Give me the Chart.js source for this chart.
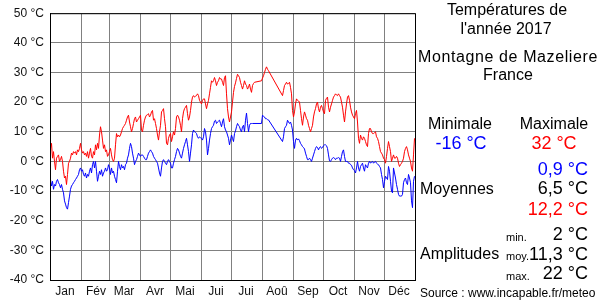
<!DOCTYPE html>
<html lang="fr">
<head>
<meta charset="utf-8">
<title>Températures de l'année 2017 - Montagne de Mazeliere</title>
<script src="https://cdn.jsdelivr.net/npm/chart.js@4.4.1/dist/chart.umd.min.js"></script>
<style>
  html, body { margin: 0; padding: 0; background: #fff; }
  #wrap { position: relative; width: 600px; height: 300px; overflow: hidden;
          font-family: 'Liberation Sans', Arial, sans-serif; color: #000; }
  #chart { position: absolute; left: 0; top: 0; }
  .t { position: absolute; white-space: nowrap; height: 20px; line-height: 20px; font-size: 16px; }
  .c { width: 200px; text-align: center; }
  .r { right: 12px; text-align: right; }
  .v { font-size: 18px; }
  .s { font-size: 11px; }
  .blue { color: #0000ff; }
  .red { color: #ff0000; }
</style>
</head>
<body>
<div id="wrap">
  <canvas id="chart" width="600" height="300"></canvas>

  <div class="t c" style="left:407px; top:0px;">Températures de</div>
  <div class="t c" style="left:406px; top:19px;">l'année 2017</div>
  <div class="t c" style="left:408px; top:47px; letter-spacing:0.6px;">Montagne de Mazeliere</div>
  <div class="t c" style="left:408px; top:65px;">France</div>

  <div class="t c" style="left:360px; top:114px;">Minimale</div>
  <div class="t c" style="left:454px; top:114px;">Maximale</div>
  <div class="t c v blue" style="left:361px; top:133px;">-16 °C</div>
  <div class="t c v red" style="left:454px; top:133px;">32 °C</div>

  <div class="t r v blue" style="top:159px;">0,9 °C</div>
  <div class="t" style="left:420px; top:179px;">Moyennes</div>
  <div class="t r v" style="top:178px;">6,5 °C</div>
  <div class="t r v red" style="top:199px;">12,2 °C</div>

  <div class="t s" style="left:506px; top:227px;">min.</div>
  <div class="t r v" style="top:224px;">2 °C</div>
  <div class="t" style="left:420px; top:244px;">Amplitudes</div>
  <div class="t s" style="left:506px; top:246px;">moy.</div>
  <div class="t r v" style="top:244px;">11,3 °C</div>
  <div class="t s" style="left:506px; top:266px;">max.</div>
  <div class="t r v" style="top:263px;">22 °C</div>

  <div class="t" style="left:420px; top:283px; font-size:12px;">Source : www.incapable.fr/meteo</div>
</div>

<script>
// month axis
const monthLabels = ['Jan', 'Fév', 'Mar', 'Avr', 'Mai', 'Jui', 'Jui', 'Aoû', 'Sep', 'Oct', 'Nov', 'Déc'];
const monthStarts = [0, 31, 59, 90, 120, 151, 181, 212, 243, 273, 304, 334];
const daysInYear = 365;

// y axis
const tempMin = -40;
const tempMax = 50;
const tempStep = 10;

// daily maximum temperatures (°C), null = missing day
const tmax = [
  // Jan
  4.4, 6.1, 1.1, 3.3, 0, -2.8, 1.1, 1.7, 2.2, 0, 0.6, 1.7, 0, -3.3, -5.6, -5, -7.8, -4.4, -0.6, 0,
  1.1, 2.8, 2.2, 3.3, 2.8, 3.3, 2.2, 3.9, 3.3, 4.4, 6.1,
  // Feb
  3.9, 2.8, 3.3, 2.2, 2.8, 1.7, 3.3, 1.1, 2.8, 4.4, 1.7, 1.1, 3.3, 2.2, 5.6, 3.9, 6.1, 4.4, 8.9, 11.7,
  10, 7.2, 4.4, 5.6, 3.3, 3.9, 1.7, 2.2,
  // Mar
  3.3, 4.4, 2.2, 0.6, 0, 1.1, 5.6, 9.4, 8.3, 8.9, 8.3, 8.9, 10, 11.1, 11.7, 12.2, 12.8, 13.9, 15, 15.6,
  13.3, 11.7, 10, 11.1, 12.8, 14.4, 15, 13.3, 13.9, 14.4, 15,
  // Apr
  15.6, 10.6, 10, 12.2, 13.9, 15, 15.6, 15.8, 16.1, 15, 15.6, 16.7, 17.2, 13.9, 14.4, 12.8, 11.1, 8.9, 7.2, 10,
  12.2, 16.7, 17.2, 17.8, 14.4, 11.7, 6.1, 5.6, 7.8, 8.9,
  // May
  9.4, 6.7, 8.3, 10, 8.9, 11.1, 15, 15.6, 15, 13.9, 12.2, 10, 14.4, 16.7, 17.8, 18.3, 18.9, 16.1, 13.9, 15,
  17.2, 20, 21.7, 22.2, 21.7, 22, 22.2, 22.8, 22.2, 20.6, 20,
  // Jun
  19.4, 20.6, 21.1, 21.1, 19.4, 17.8, 19.4, 20.6, 22.8, 25, 27.2, 26.7, 27.2, 28.3, 27.2, 25.6, 26.7, 27.2, 28.3, 27.8,
  27.8, 26.7, 25.6, 28.3, 28.9, 22.8, 17.8, 15, 13.3, 15,
  // Jul
  16.7, 20, 23.3, 25.3, 26.5, 28, 29.4, 28.9, 28.3, 26.7, 25.6, 24.4, 25.6, 27.2, 26.1, 25.6, 24.4, 25, 26.1, 24.4,
  23.3, 25.6, 26.3, 26.7, null, null, null, null, null, null, 27.2,
  // Aug
  28.1, 28.9, 30, 31.1, 31.9, 31.1, 30.6, null, null, null, null, null, null, null, null, null, null, null, null, null,
  22.2, 23.9, 25.6, 26.1, 26.7, 26.1, 26.3, 26.7, 25, 22.8, 17.2,
  // Sep
  15, 16.7, 19.4, 21.1, 20.6, 20.4, 20, 17.2, 14.4, 12.2, 15, 16.7, 15.6, 14.4, 13.9, 12.2, 11.1, 10, 11.1, 12.2,
  15, 16.7, 17.8, 19.4, 20, 17.8, 16.7, 18.3, 18.9, 17.8,
  // Oct
  16.7, 16.1, 20.6, 21.3, 21.7, 18.3, 16.7, 18.3, 19.4, 20.6, 21.7, 22.2, 22.8, 22.4, 22.2, 22.8, 22.2, 21.7, 20, 18.3,
  15.6, 13.3, 16.7, 19.4, 21.7, 22.2, 20.6, 18.3, 16.7, 15.6, 15,
  // Nov
  14.4, 16.1, 17.2, 13.3, 7.8, 6.1, 8.9, 7.8, 7.2, 8.3, 7.8, 6.7, 5.6, 5, 9.4, 11.1, 11.1, 10, 9.4, 9.4,
  9.7, 10, 8.3, 7.8, 6.7, 5, 3.3, 2.8, 2.2, 1.1,
  // Dec
  0.6, -0.6, 1.7, 4.4, 6.7, 5, 3.3, 0, 1.1, 2.2, 1.1, 1.1, 1.7, 1.1, -0.6, -1.7, -1.1, -0.6, 0, 1.1,
  3.3, 4.4, 5, 3.9, 2.2, 1.1, 0, -2.2, -3.3, 2.2, 7.8
];

// daily minimum temperatures (°C), null = missing day
const tmin = [
  // Jan
  -6.1, -8.3, -6.7, -9.4, -7.8, -8.3, -6.7, -6.1, -7.2, -7.8, -8.9, -7.8, -9.4, -10.6, -13.3, -14.4, -15.6, -16.1, -13.9, -11.7,
  -9.4, -8.3, -7.8, -7.2, -6.7, -6.1, -5.6, -5, -4.4, -2.8, -2.2,
  // Feb
  -3.3, -2.8, -4.4, -5, -3.9, -5.6, -4.4, -5, -3.3, -2.2, -3.9, -1.1, 0, -2.2, 0, -3.3, -6.7, -5, -3.3, -4.4,
  -2.8, -5, -3.9, -3.3, -2.2, -3.3, -2.8, -1.1,
  // Mar
  -2.2, -4.4, -2.2, -3.9, -3.3, -5, -6.1, -7.2, -3.3, 0, -1.7, -2.8, -1.1, -2.2, -1.7, -2.8, -1.1, -0.6, 1.1, 2.2,
  4.4, 6.1, 5, 2.8, 1.1, -1.1, 0, 0.6, 1.7, 2.8, 2.2,
  // Apr
  1.7, 2.2, 2.2, 1.7, 1.1, 0.6, 0.6, 1.7, 2.8, 3.3, 3.9, 3.3, 2.8, 1.7, 1.1, 0.6, 0, -0.6, -2.2, -3.9,
  -5, -2.2, 0, 0.6, 0, -0.6, -1.1, 0, 0.6, 0,
  // May
  -0.6, -2.2, -2.2, -0.6, 0.6, 1.7, 3.3, 4.4, 3.9, 2.8, 1.7, 1.1, 2.8, 4.4, 5.6, 6.7, 7.8, 5.6, 3.3, 0,
  2.8, 5.6, 9.4, 10.6, 10, 9.8, 9.4, 8.3, 7.8, 8.3, 8,
  // Jun
  7.8, 7.2, 8.3, 11.1, 10, 7.2, 2.2, 4.4, 7.2, 9.4, 11.1, 11.7, 12.2, 13.6, 13.9, 12.8, 13.3, 13.6, 13.9, 12.8,
  11.7, 13.3, 14.4, 11.7, 10.6, 10, 8.9, 7.8, 5.6, 7.2,
  // Jul
  8.9, 7.8, 6.7, 9.4, 10.3, 11.7, 12.8, 12.2, 11.7, 10.6, 10, 11.7, 12.2, 10, 13.9, 16.3, 12.8, 10, 12.2, 12.8,
  12.8, 12.8, null, null, null, null, null, null, null, null, 12.8,
  // Aug
  15.6, 15.2, 15, 14.4, 14.4, 14.1, 14, null, null, null, null, null, null, null, null, null, null, null, null, null,
  6.7, 8.3, 11.1, 11.7, 12.2, 13.9, 13.3, 12.8, 13.3, 12.2, 10.6,
  // Sep
  6.7, 4.4, 7.2, 7.8, 7.2, 7.6, 7, 6.1, 5.6, 5, 4.7, 4.2, 2.8, 1.7, 0.6, 0.6, 1.1, 0.6, 0, 1.1,
  2.2, 3.3, 4.4, 5, 4.7, 3.9, 4.7, 5, 4.4, 4.7,
  // Oct
  5.3, 5.6, 5.6, 5.3, 4.4, 2.2, 0.2, 0, 0.6, 1.1, 1.3, 1.1, 0.6, 1.1, 1.1, 1.3, 1.1, 0, 1.7, 3.3,
  3.9, 1.7, 0, 0, 0, -0.6, -0.6, -1.1, -1.3, -2.2, -2.8,
  // Nov
  -3.1, -3.9, -2.2, 0, -2.2, -3.3, -1.7, -1.1, -0.6, -2.2, -3.3, -1.1, -1.7, -2.2, -0.6, 0, -0.6, -0.2, 0, -0.6,
  -0.2, 0, -0.6, -0.9, -1.1, -1.7, -2.2, -4.4, -6.1, -8.9,
  // Dec
  -6.7, -5, -5.6, -6.1, -1.7, -3.3, -6.7, -10, -10.6, -2.2, -3.9, -5.6, -7.8, -9.4, -11.1, -11.7, -11.7, -11.7, -11.1, -7.2,
  -6.1, -5.6, -7.2, -7.8, -4.4, -5.6, -7.2, -13.3, -15.6, -6.7, -5
];

const gridGray = '#808080';
const fontFamily = "'Liberation Sans', Arial, sans-serif";

// black frame round the plot area
const plotFrame = {
    id: 'plotFrame',
    afterDraw(chart) {
        const { ctx, chartArea: a } = chart;
        ctx.save();
        ctx.strokeStyle = '#000';
        ctx.lineWidth = 1;
        ctx.strokeRect(a.left + 0.5, a.top + 0.5, a.right - a.left, a.bottom - a.top);
        ctx.restore();
    }
};

const toPoints = arr => arr.map((v, i) => ({ x: i + 0.5, y: v }));

new Chart(document.getElementById('chart'), {
    type: 'line',
    data: {
        datasets: [
            { data: toPoints(tmax), borderColor: '#ff0000', borderWidth: 1, pointRadius: 0, tension: 0, spanGaps: true, fill: false },
            { data: toPoints(tmin), borderColor: '#0000ff', borderWidth: 1, pointRadius: 0, tension: 0, spanGaps: true, fill: false }
        ]
    },
    options: {
        responsive: false,
        animation: false,
        events: [],
        layout: { padding: { top: 10, right: 185, left: 0, bottom: 0 } },
        plugins: { legend: { display: false }, tooltip: { enabled: false } },
        scales: {
            x: {
                type: 'linear',
                min: 0,
                max: daysInYear,
                afterBuildTicks: scale => { scale.ticks = monthStarts.map(v => ({ value: v })); },
                afterFit: scale => { scale.height = 20; },
                grid: { color: gridGray, lineWidth: 1, drawTicks: false },
                border: { color: '#000' },
                ticks: {
                    autoSkip: false,
                    maxRotation: 0,
                    padding: 4,
                    labelOffset: 15,
                    color: '#111',
                    font: { family: fontFamily, size: 12 },
                    callback: (v, i) => monthLabels[i]
                }
            },
            y: {
                min: tempMin,
                max: tempMax,
                afterFit: scale => { scale.width = 50; },
                grid: { color: gridGray, lineWidth: 1, drawTicks: false },
                border: { color: '#000' },
                ticks: {
                    stepSize: tempStep,
                    padding: 6,
                    color: '#111',
                    font: { family: fontFamily, size: 12 },
                    callback: v => v + ' °C'
                }
            }
        }
    },
    plugins: [plotFrame]
});
</script>
</body>
</html>
